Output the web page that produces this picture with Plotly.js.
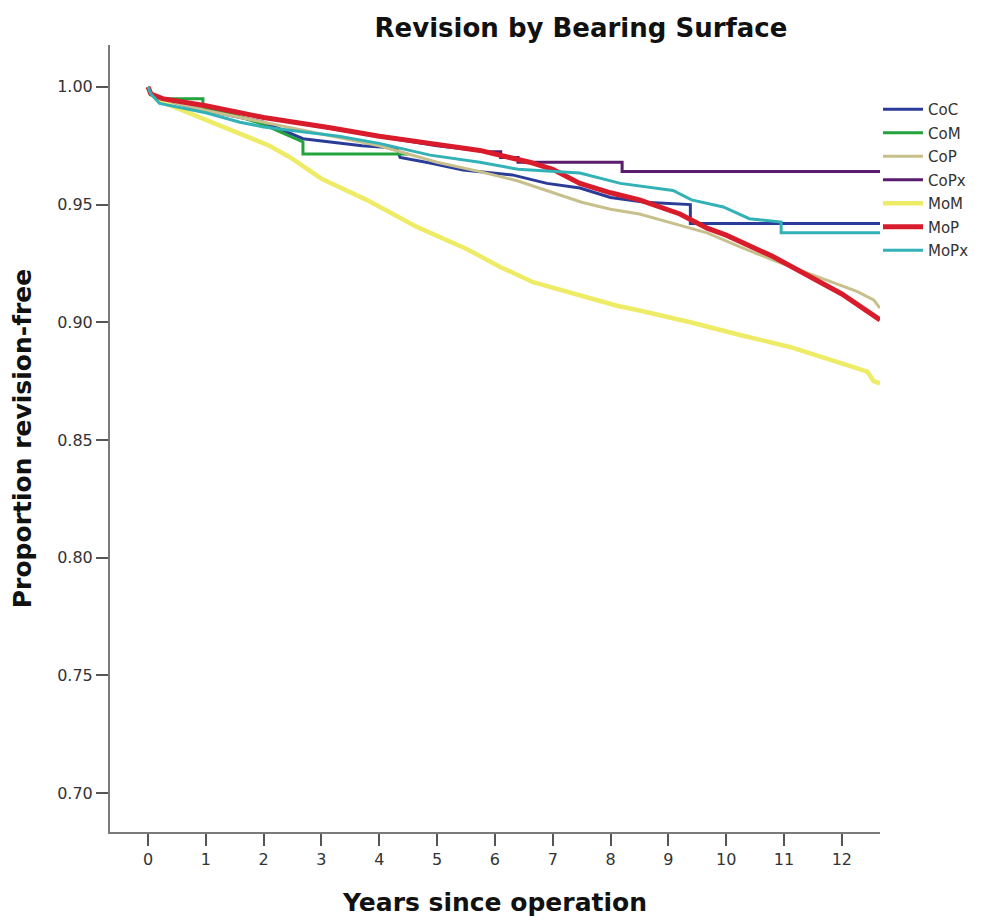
<!DOCTYPE html>
<html>
<head>
<meta charset="utf-8">
<script src="https://cdn.plot.ly/plotly-3.0.1.min.js"></script>
<style>html,body{margin:0;padding:0;background:#fff;}#chart{width:981px;height:922px;}</style>
</head>
<body>
<div id="chart"></div>
<script>
// Series names
const seriesNames = ["CoC", "CoM", "CoP", "CoPx", "MoM", "MoP", "MoPx"];

// Years since operation / proportion revision-free
const cocX = [0, 0.05, 0.2, 0.5, 1, 2, 2.68, 3.15, 3.7, 4.3, 4.36, 4.88, 5.45, 6.3, 6.9, 7.47, 8.0, 8.6, 9.2, 9.38, 9.38, 12.66];
const cocY = [1, 0.997, 0.995, 0.993, 0.990, 0.985, 0.978, 0.9766, 0.975, 0.974, 0.970, 0.9677, 0.9647, 0.9626, 0.959, 0.957, 0.953, 0.951, 0.950, 0.950, 0.942, 0.942];

const comX = [0, 0.05, 0.2, 0.95, 0.95, 1.5, 2, 2.68, 2.68, 4.5];
const comY = [1, 0.997, 0.995, 0.995, 0.991, 0.988, 0.984, 0.9766, 0.9715, 0.9715];

const copX = [0, 0.05, 0.2, 0.5, 1, 2, 3, 4, 5, 5.74, 6.4, 7, 7.5, 8, 8.5, 9.08, 9.67, 10.24, 10.8, 11.4, 11.85, 12.27, 12.55, 12.66];
const copY = [1, 0.997, 0.995, 0.993, 0.990, 0.985, 0.980, 0.975, 0.968, 0.964, 0.960, 0.955, 0.951, 0.948, 0.946, 0.942, 0.938, 0.932, 0.9265, 0.921, 0.917, 0.913, 0.9095, 0.906];

const copxX = [0, 0.05, 0.2, 1, 2, 3, 4, 5, 5.9, 6.1, 6.1, 6.4, 6.4, 8.2, 8.2, 12.66];
const copxY = [1, 0.997, 0.995, 0.992, 0.987, 0.983, 0.979, 0.975, 0.9724, 0.9724, 0.970, 0.970, 0.968, 0.968, 0.964, 0.964];

const momX = [0, 0.05, 0.2, 0.5, 0.9, 1.59, 2.1, 2.46, 3.0, 3.78, 4.65, 5.52, 6.09, 6.66, 7.25, 8.11, 8.5, 9.38, 10.24, 11.1, 11.97, 12.44, 12.55, 12.66];
const momY = [1, 0.997, 0.994, 0.991, 0.987, 0.980, 0.975, 0.970, 0.961, 0.952, 0.9405, 0.931, 0.9235, 0.917, 0.913, 0.907, 0.905, 0.900, 0.8946, 0.8895, 0.8827, 0.879, 0.875, 0.874];

const mopX = [0, 0.05, 0.25, 1, 1.59, 2, 3.15, 4, 4.88, 5.74, 6.6, 7, 7.47, 8, 8.5, 9.2, 9.67, 10, 10.8, 11.5, 12, 12.66];
const mopY = [1, 0.997, 0.995, 0.992, 0.989, 0.987, 0.9826, 0.979, 0.976, 0.973, 0.968, 0.965, 0.959, 0.955, 0.952, 0.946, 0.940, 0.937, 0.928, 0.919, 0.912, 0.901];

const mopxX = [0, 0.05, 0.2, 1, 1.59, 2, 3.3, 4, 4.88, 5.74, 6.4, 7.47, 8.17, 8.5, 9.08, 9.4, 9.95, 10.4, 10.95, 10.95, 12.66];
const mopxY = [1, 0.997, 0.993, 0.989, 0.985, 0.983, 0.979, 0.976, 0.971, 0.968, 0.965, 0.9634, 0.959, 0.958, 0.956, 0.952, 0.949, 0.944, 0.9426, 0.938, 0.938];

// Tick labels
const xTicks = [0,1,2,3,4,5,6,7,8,9,10,11,12];
const yTicks = [0.70, 0.75, 0.80, 0.85, 0.90, 0.95, 1.00];
const yTickText = ["0.70", "0.75", "0.80", "0.85", "0.90", "0.95", "1.00"];

const xs = [cocX, comX, copX, copxX, momX, mopX, mopxX];
const ys = [cocY, comY, copY, copxY, momY, mopY, mopxY];
const colors = ["#2b3c98", "#22a33c", "#c8c08c", "#5a1c6c", "#eeec66", "#d81c2c", "#32b2b6"];
const widths = [3, 3, 3, 3, 4.5, 5, 3];

const traces = seriesNames.map((n, i) => ({
  type: "scatter", mode: "lines", name: n,
  x: xs[i], y: ys[i], legendgroup: n,
  line: {color: colors[i], width: widths[i], shape: "linear"}
}));

const font = "DejaVu Sans, Liberation Sans, Arial, sans-serif";
const layout = {
  width: 981, height: 922,
  margin: {l: 110, r: 101, t: 45, b: 90, autoexpand: false},
  paper_bgcolor: "#fff", plot_bgcolor: "#fff",
  title: {text: "<b>Revision by Bearing Surface</b>", x: 581/981, xanchor: "center", y: 1 - 28/922, yanchor: "middle",
          font: {family: font, size: 26, color: "#111"}},
  xaxis: {
    range: [-0.657, 12.66], tickvals: xTicks, ticktext: xTicks.map(String),
    showgrid: false, zeroline: false, showline: true, linecolor: "#7a7a7a", linewidth: 2,
    ticks: "outside", ticklen: 12, tickwidth: 2, tickcolor: "#555",
    tickfont: {family: font, size: 16, color: "#333"},
    title: {text: "<b>Years since operation</b>", font: {family: font, size: 25, color: "#111"}, standoff: 25}
  },
  yaxis: {
    range: [0.6834, 1.0178], tickvals: yTicks, ticktext: yTickText,
    showgrid: false, zeroline: false, showline: true, linecolor: "#7a7a7a", linewidth: 2,
    ticks: "outside", ticklen: 12, tickwidth: 2, tickcolor: "#555",
    tickfont: {family: font, size: 16, color: "#333"},
    title: {text: "<b>Proportion revision-free</b>", font: {family: font, size: 25, color: "#111"}, standoff: 18}
  },
  showlegend: true,
  legend: {xref: "container", yref: "container", x: 878/981, xanchor: "left", y: 1 - 93/922, yanchor: "top",
           bgcolor: "rgba(0,0,0,0)",
           font: {family: font, size: 15, color: "#333"}, traceorder: "grouped", tracegroupgap: 1,
           itemwidth: 40}
};

Plotly.newPlot("chart", traces, layout, {displayModeBar: false, staticPlot: true});
</script>
</body>
</html>
